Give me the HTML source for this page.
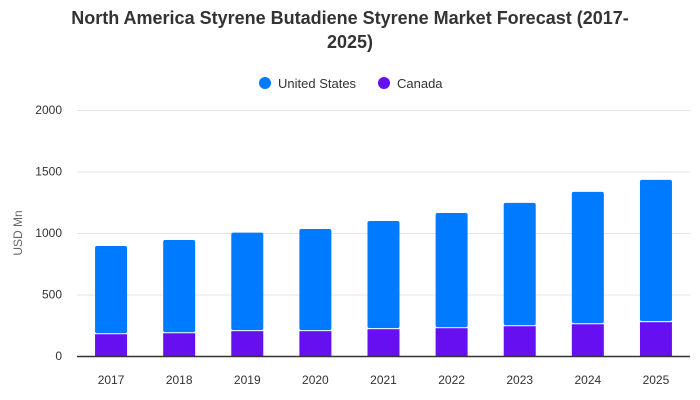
<!DOCTYPE html>
<html><head><meta charset="utf-8"><style>
body{margin:0;background:#fff;font-family:"Liberation Sans",Arial,sans-serif;}
#wrap{position:relative;width:700px;height:400px;overflow:hidden;}
</style></head><body>
<div id="wrap">
<svg id="svg" width="700" height="400">
<text x="350" y="24" text-anchor="middle" font-size="18" font-weight="bold" fill="#333">North America Styrene Butadiene Styrene Market Forecast (2017-</text>
<text x="350" y="48" text-anchor="middle" font-size="18" font-weight="bold" fill="#333">2025)</text>
<g>
<g><circle cx="265" cy="83" r="6" fill="#007bff"/><text x="278" y="88" font-size="13" fill="#333">United States</text></g>
<g><circle cx="384" cy="83" r="6" fill="#6610f2"/><text x="397" y="88" font-size="13" fill="#333">Canada</text></g>
</g>
<text transform="translate(22,233) rotate(-90)" text-anchor="middle" font-size="12" fill="#666">USD Mn</text>
<g id="grid"></g><g id="bars"></g><g id="xl"></g>
<line x1="77" x2="690" y1="356.5" y2="356.5" stroke="#333" stroke-width="1.5"/>
</svg></div>
<script>
const categories=["2017","2018","2019","2020","2021","2022","2023","2024","2025"];
const canada=[177,185,202,202,218,226,242,258,275];
const unitedStates=[717,758,801,831,880,937,1003,1076,1157];
const yTicks=[0,500,1000,1500,2000];
const NS="http://www.w3.org/2000/svg";
const L=77,R=690,B=356,T=110,MAX=2000;
const y=v=>B-(v/MAX)*(B-T);
const band=(R-L)/categories.length;
const xc=i=>L+band*(i+0.5);
const bw=32;
function mk(t,a){const e=document.createElementNS(NS,t);for(const k in a)e.setAttribute(k,a[k]);return e;}
const grid=document.getElementById('grid');
yTicks.forEach(v=>{
 if(v>0){const l=mk('line',{x1:L,x2:R,y1:y(v)+0.5,y2:y(v)+0.5,stroke:'#e6e6e6'});
 
 
 grid.appendChild(l);}
 const t=mk('text',{x:62,y:y(v)+4,'text-anchor':'end','font-size':12,fill:'#333'});
 t.textContent=v;
 
 
 grid.appendChild(t);
});
const bars=document.getElementById('bars'),xl=document.getElementById('xl');
categories.forEach((c,i)=>{
 const x=xc(i)-bw/2;
 const ca=mk('rect',{x:x,y:y(canada[i]),width:bw,height:B-y(canada[i]),fill:'#6610f2'});
 
 
 bars.appendChild(ca);
 const top=canada[i]+unitedStates[i];
 const us=mk('rect',{x:x,y:y(top),width:bw,height:y(canada[i])-y(top)-1,fill:'#007bff',rx:2});
 
 
 bars.appendChild(us);
 const t=mk('text',{x:xc(i),y:384,'text-anchor':'middle','font-size':12,fill:'#333'});
 t.textContent=c;
 
 
 xl.appendChild(t);
});
</script>
</body></html>
